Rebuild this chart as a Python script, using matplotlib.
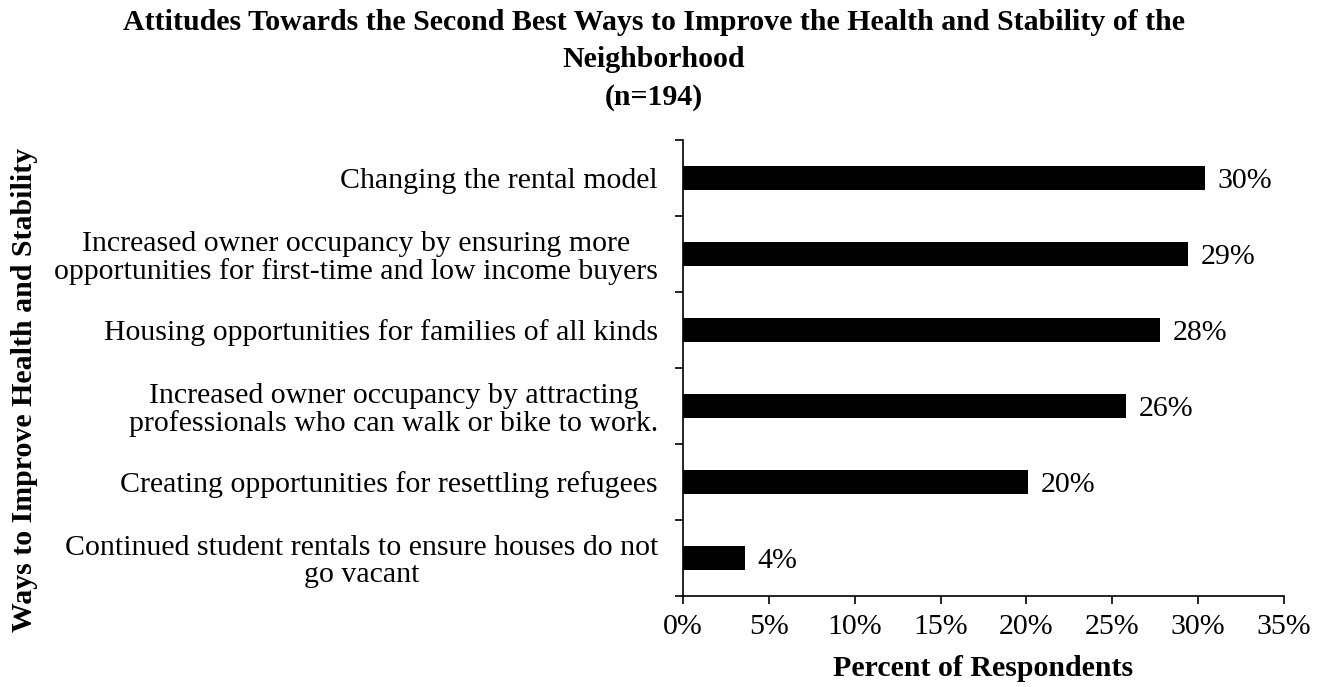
import matplotlib
matplotlib.use("Agg")
import matplotlib.pyplot as plt
import numpy as np

plt.rcParams['font.family'] = ['Liberation Serif', 'DejaVu Serif']

categories = [
    "Changing the rental model",
    "Increased owner occupancy by ensuring more\nopportunities for first-time and low income buyers",
    "Housing opportunities for families of all kinds",
    "Increased owner occupancy by attracting\nprofessionals who can walk or bike to work.",
    "Creating opportunities for resettling refugees",
    "Continued student rentals to ensure houses do not\ngo vacant",
]
percent = [30.4, 29.4, 27.8, 25.8, 20.1, 3.6]
x_ticks = [0, 5, 10, 15, 20, 25, 30, 35]

title = ("Attitudes Towards the Second Best Ways to Improve the Health and Stability of the\n"
         "Neighborhood\n(n=194)")
x_label = "Percent of Respondents"
y_label = "Ways to Improve Health and Stability"

W, H = 1326, 687
fig = plt.figure(figsize=(W / 100, H / 100), dpi=100)
ax = fig.add_axes([683 / W, 1 - 596 / H, (1284 - 683) / W, (596 - 140) / H])

fs = 21.5
y = np.arange(len(categories))
ax.barh(y, percent, height=0.32, color='black')
for yi, v in zip(y, percent):
    ax.text(v + 0.75, yi + 0.04, f"{v:.0f}%", va='center', ha='left', fontsize=fs)

ax.set_ylim(len(categories) - 0.5, -0.5)
ax.set_xlim(0, 35)
ax.set_xticks(x_ticks)
ax.set_xticklabels([f"{t}%" for t in x_ticks], fontsize=fs)
ax.set_yticks(y)
ax.set_yticklabels(categories, fontsize=fs, multialignment='center',
                   linespacing=1.06)
ax.set_yticks(np.arange(-0.5, len(categories)), minor=True)
ax.tick_params(axis='y', which='major', length=0, pad=18)
ax.tick_params(axis='y', which='minor', length=6, width=1.2, direction='out')
ax.tick_params(axis='x', length=6, width=1.2, direction='out', pad=7)

for s in ['top', 'right']:
    ax.spines[s].set_visible(False)
for s in ['left', 'bottom']:
    ax.spines[s].set_linewidth(1.2)

fig.text(983 / W, 1 - 668 / H, x_label, ha='center', va='center',
         fontsize=fs, fontweight='bold')
fig.text(25 / W, 1 - 390 / H, y_label, ha='center', va='center',
         rotation=90, fontsize=fs, fontweight='bold')
fig.text(654 / W, 1 - 60 / H, title, ha='center', va='center',
         fontsize=fs, fontweight='bold', linespacing=1.5)

fig.savefig("out.png", dpi=100)
